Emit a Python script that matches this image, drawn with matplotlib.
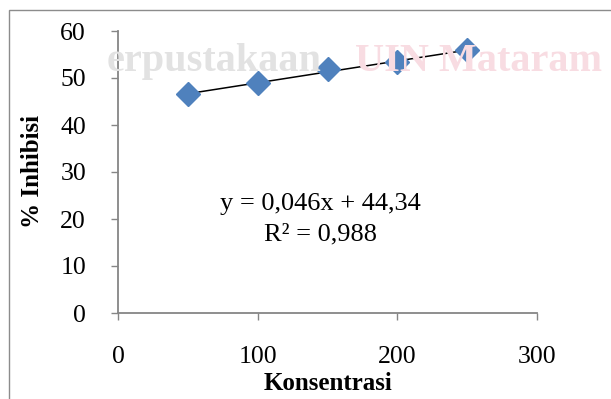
import matplotlib.pyplot as plt
import numpy as np
from matplotlib.patches import Rectangle

konsentrasi = [50, 100, 150, 200, 250]
inhibisi = [46.5, 48.9, 51.9, 53.3, 55.9]
eq_label = "y = 0,046x + 44,34"
r2_label = "R² = 0,988"

plt.rcParams["font.family"] = ["Liberation Serif", "DejaVu Serif"]

fig = plt.figure(figsize=(6.11, 3.99), dpi=100)

# faint library watermark behind the chart (kept clear of the tick labels)
fig.text(0.175, 0.845, "erpustakaan", ha="left", va="center", fontsize=29,
         fontweight="bold", color="#e2e2e2", zorder=0)
fig.text(0.985, 0.845, "UIN Mataram", ha="right", va="center", fontsize=29,
         fontweight="bold", color="#f8dce2", zorder=0)

# chart area border
fig.patches.append(Rectangle((9 / 611, -0.1), 1.0, 1 - 10 / 399 + 0.1,
                             transform=fig.transFigure, fill=False,
                             edgecolor="#8c8c8c", lw=1.0, zorder=0))

ax = fig.add_axes([118 / 611, 1 - 313 / 399, (537 - 118) / 611, (313 - 31) / 399])
ax.patch.set_alpha(0)

x = np.array(konsentrasi, dtype=float)
y = np.array(inhibisi)
m, b = np.polyfit(x, y, 1)
ax.plot([x.min(), x.max()], [m * x.min() + b, m * x.max() + b], color="black", lw=1.1, zorder=2)
ax.plot(x, y, linestyle="none", marker="D", ms=12, color="#4f81bd", mec="#4f81bd", zorder=3)

ax.set_xlim(0, 300)
ax.set_ylim(0, 60)
ax.set_xticks([0, 100, 200, 300])
ax.set_yticks(range(0, 61, 10))
for s in ["top", "right"]:
    ax.spines[s].set_visible(False)
for s in ["left", "bottom"]:
    ax.spines[s].set_color("#868686")
    ax.spines[s].set_linewidth(1.3)
ax.tick_params(axis="both", direction="out", length=5, width=1.0, color="#868686",
               labelsize=18.5, labelcolor="black")
ax.tick_params(axis="x", pad=19)
ax.tick_params(axis="y", pad=18)

ax.set_xlabel("Konsentrasi", fontsize=18, fontweight="bold", labelpad=3)
ax.set_ylabel("% Inhibisi", fontsize=18, fontweight="bold", labelpad=12)

ax.text(145, 23.2, eq_label, ha="center", va="center", fontsize=19)
ax.text(145, 16.8, r2_label, ha="center", va="center", fontsize=19)

fig.savefig("out.png", dpi=100)
